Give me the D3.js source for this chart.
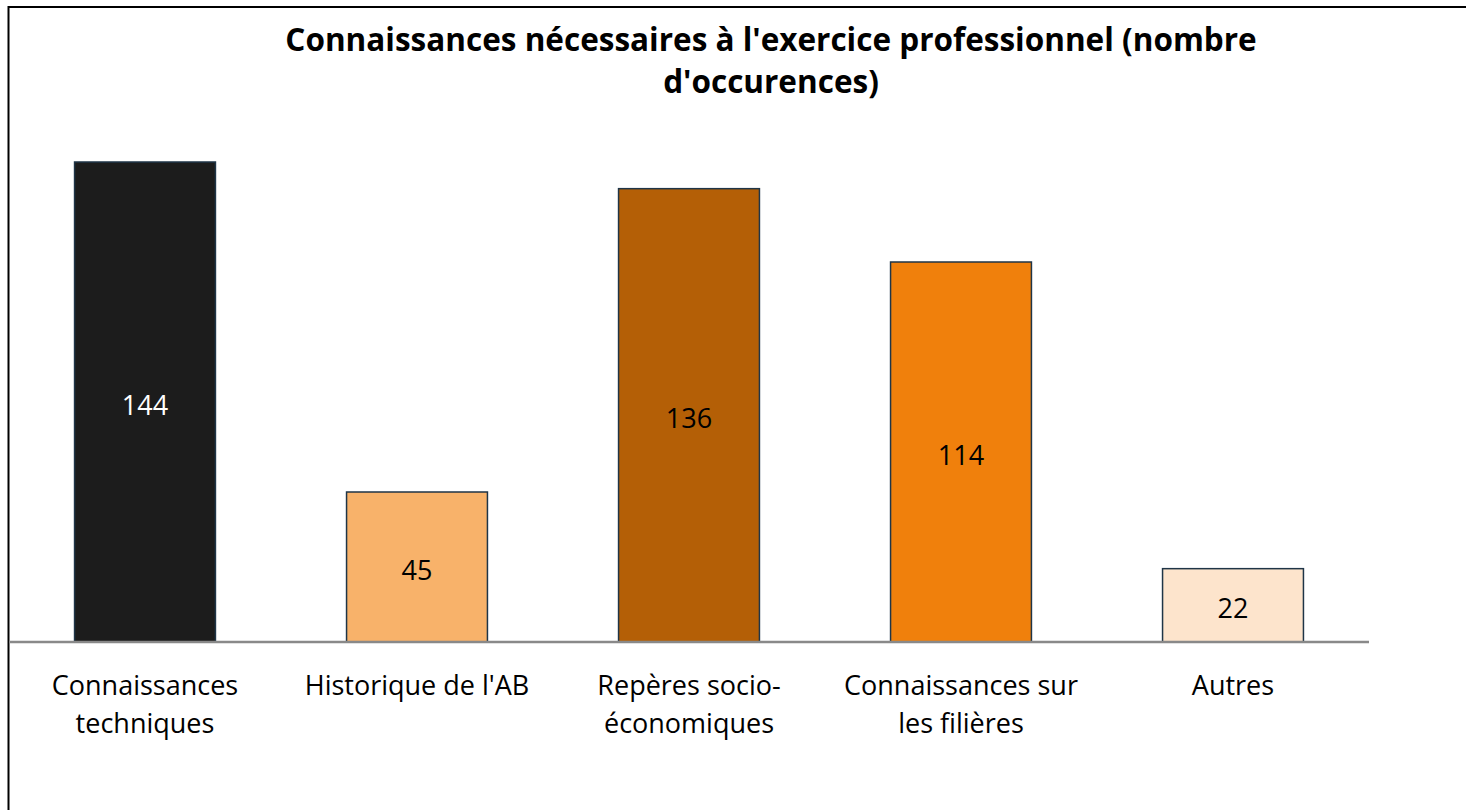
<!DOCTYPE html>
<html>
<head>
<meta charset="utf-8">
<script src="https://cdn.jsdelivr.net/npm/d3@7"></script>
<style>
  body { margin: 0; background: #fff; }
  svg { display: block; font-family: "Open Sans", sans-serif; }
</style>
</head>
<body>
<div id="chart"></div>
<script>
// data
const categories = [
  ["Connaissances", "techniques"],
  ["Historique de l'AB"],
  ["Repères socio-", "économiques"],
  ["Connaissances sur", "les filières"],
  ["Autres"]
];
const values = [144, 45, 136, 114, 22];
const barColors = ["#1c1c1c", "#f8b26a", "#b45f06", "#f0800c", "#fde4cc"];
const labelColors = ["#ffffff", "#000000", "#000000", "#000000", "#000000"];
const titleLines = ["Connaissances nécessaires à l'exercice professionnel (nombre", "d'occurences)"];

const width = 1466, height = 810;
const baseY = 642, plotTop = 162;

let svg = d3.select('#chart')
  .append('svg')
  .attr('width', width)
  .attr('height', height);

svg.append('rect')
  .attr('width', width).attr('height', height)
  .attr('fill', '#fff');

// frame (right and bottom edges fall outside the picture)
svg.append('rect')
  .attr('x', 8.5).attr('y', 7)
  .attr('width', 1600).attr('height', 900)
  .attr('fill', 'none')
  .attr('stroke', '#000')
  .attr('stroke-width', 2);

// title
svg.append('text')
  .attr('text-anchor', 'middle')
  .attr('font-weight', 'bold')
  .attr('font-size', 31.5)
  .selectAll('tspan')
  .data(titleLines)
  .enter().append('tspan')
    .attr('x', 771)
    .attr('y', (d, i) => 51 + i * 42)
    .text(d => d);

let x = d3.scaleBand()
  .domain(d3.range(values.length))
  .range([9, 1369])
  .paddingInner(0.482)
  .paddingOuter(0.241);

let y = d3.scaleLinear()
  .domain([0, d3.max(values)])
  .range([baseY, plotTop]);

// bars
svg.append('g')
  .selectAll('rect')
  .data(values)
  .enter().append('rect')
    .attr('x', (d, i) => x(i))
    .attr('y', d => y(d))
    .attr('width', x.bandwidth())
    .attr('height', d => y(0) - y(d))
    .attr('fill', (d, i) => barColors[i])
    .attr('stroke', '#1f3547')
    .attr('stroke-width', 1.5);

// value labels in the middle of each bar
svg.append('g')
  .selectAll('text')
  .data(values)
  .enter().append('text')
    .attr('x', (d, i) => x(i) + x.bandwidth() / 2)
    .attr('y', d => (y(d) + y(0)) / 2)
    .attr('dy', '0.48em')
    .attr('text-anchor', 'middle')
    .attr('font-size', 27)
    .attr('fill', (d, i) => labelColors[i])
    .text(d => d);

// baseline axis
let xAxis = svg.append('g')
  .attr('transform', 'translate(0,' + baseY + ')')
  .call(d3.axisBottom(x).tickSize(0).tickFormat(''));
xAxis.select('.domain')
  .attr('d', 'M9,0H1369')
  .attr('stroke', '#898989')
  .attr('stroke-width', 2.5);

// category labels
let cat = svg.append('g')
  .selectAll('text')
  .data(categories)
  .enter().append('text')
    .attr('text-anchor', 'middle')
    .attr('font-size', 27)
    .attr('fill', '#000');
cat.selectAll('tspan')
  .data((d, i) => d.map(t => ({t: t, i: i})))
  .enter().append('tspan')
    .attr('x', d => x(d.i) + x.bandwidth() / 2)
    .attr('y', (d, j) => 695 + j * 38)
    .text(d => d.t);
</script>
</body>
</html>
